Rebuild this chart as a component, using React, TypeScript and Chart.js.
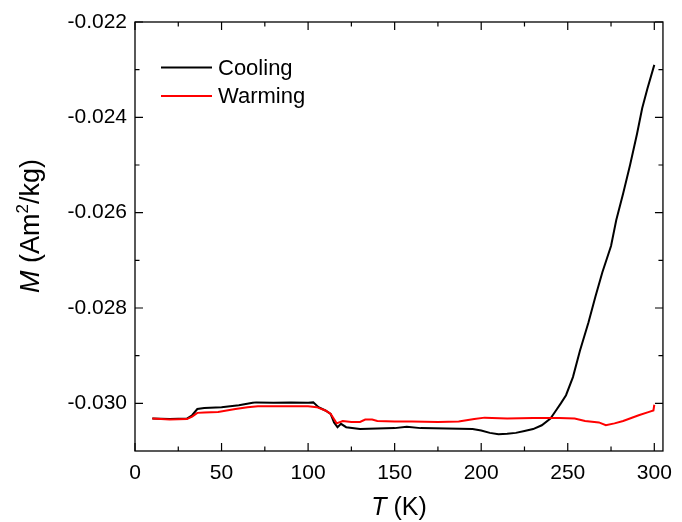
import React, { useEffect, useRef } from "react";
import { Chart, registerables } from "chart.js";

Chart.register(...registerables);

const coolingT = [10, 20, 30, 33, 36, 40, 50, 60, 68, 70, 80, 90, 100, 103, 106, 110, 113, 115, 117, 119, 122, 130, 140, 150, 157, 165, 180, 195, 200, 205, 210, 215, 220, 225, 230, 235, 240, 243, 246, 249, 253, 257, 262, 266, 270, 275, 278, 282, 286, 290, 293, 296, 300];
const coolingM = [-0.03032, -0.03033, -0.03032, -0.03025, -0.03012, -0.0301, -0.03008, -0.03004, -0.02999, -0.02998, -0.02999, -0.02998, -0.02999, -0.02998, -0.03008, -0.03015, -0.03022, -0.0304, -0.0305, -0.03043, -0.0305, -0.03054, -0.03053, -0.03052, -0.03049, -0.03052, -0.03053, -0.03054, -0.03057, -0.03062, -0.03065, -0.03064, -0.03062, -0.03058, -0.03054, -0.03046, -0.03032, -0.03016, -0.03, -0.02983, -0.02945, -0.0289, -0.0283, -0.02776, -0.02725, -0.0267, -0.02616, -0.0256, -0.025, -0.02435, -0.02381, -0.0234, -0.0229];

const warmingT = [10, 20, 30, 33, 36, 40, 48, 58, 65, 71, 85, 100, 105, 110, 113, 116.5, 120, 125, 130, 133, 137, 140, 150, 160, 175, 187, 196, 202, 215, 230, 245, 254, 260, 268, 272, 277, 282, 291, 297, 299.5, 300];
const warmingM = [-0.03032, -0.03034, -0.03033, -0.03028, -0.0302, -0.03019, -0.03018, -0.03012, -0.03008, -0.03006, -0.03006, -0.03006, -0.03008, -0.03015, -0.03022, -0.03042, -0.03037, -0.03039, -0.03039, -0.03034, -0.03034, -0.03037, -0.03038, -0.03038, -0.03039, -0.03038, -0.03033, -0.0303, -0.03032, -0.03031, -0.03031, -0.03032, -0.03037, -0.0304, -0.03046, -0.03042, -0.03037, -0.03025, -0.03018, -0.03015, -0.03003];

const xTicks = [0, 50, 100, 150, 200, 250, 300];
const xMinorTicks = [25, 75, 125, 175, 225, 275];
const yTicks = [-0.03, -0.028, -0.026, -0.024, -0.022];
const yMinorTicks = [-0.029, -0.027, -0.025, -0.023];
const seriesLabels = ["Cooling", "Warming"];
const seriesColors = ["#000000", "#ff0000"];

const FONT = "'Liberation Sans', Arial, sans-serif";

const framePlugin = {
  id: "frame",
  afterDraw(chart: any) {
    const ctx = chart.ctx;
    const { left, right, top, bottom } = chart.chartArea;
    const xs = chart.scales.x;
    const ys = chart.scales.y;
    ctx.save();
    ctx.strokeStyle = "#000";
    ctx.lineWidth = 1.3;
    ctx.strokeRect(left, top, right - left, bottom - top);
    ctx.lineWidth = 1.2;
    const major = 8;
    const minor = 4.5;
    ctx.beginPath();
    xTicks.forEach((v) => {
      const px = xs.getPixelForValue(v);
      ctx.moveTo(px, bottom);
      ctx.lineTo(px, bottom - major);
      ctx.moveTo(px, top);
      ctx.lineTo(px, top + major);
    });
    xMinorTicks.forEach((v) => {
      const px = xs.getPixelForValue(v);
      ctx.moveTo(px, bottom);
      ctx.lineTo(px, bottom - minor);
      ctx.moveTo(px, top);
      ctx.lineTo(px, top + minor);
    });
    yTicks.forEach((v) => {
      const py = ys.getPixelForValue(v);
      ctx.moveTo(left, py);
      ctx.lineTo(left + major, py);
      ctx.moveTo(right, py);
      ctx.lineTo(right - major, py);
    });
    yMinorTicks.forEach((v) => {
      const py = ys.getPixelForValue(v);
      ctx.moveTo(left, py);
      ctx.lineTo(left + minor, py);
      ctx.moveTo(right, py);
      ctx.lineTo(right - minor, py);
    });
    ctx.stroke();

    // legend
    ctx.font = `22px ${FONT}`;
    ctx.textBaseline = "middle";
    ctx.textAlign = "left";
    seriesLabels.forEach((lab, i) => {
      const y = 67.5 + i * 28.5;
      ctx.strokeStyle = seriesColors[i];
      ctx.lineWidth = 2;
      ctx.beginPath();
      ctx.moveTo(161, y);
      ctx.lineTo(212, y);
      ctx.stroke();
      ctx.fillStyle = "#000";
      ctx.fillText(lab, 218, y + 1);
    });

    // x title
    ctx.textBaseline = "alphabetic";
    const xParts: [string, string][] = [
      ["T", `italic 25px ${FONT}`],
      [" (K)", `25px ${FONT}`],
    ];
    let w = 0;
    xParts.forEach(([t, f]) => {
      ctx.font = f;
      w += ctx.measureText(t).width;
    });
    let cx = (left + right) / 2 - w / 2;
    xParts.forEach(([t, f]) => {
      ctx.font = f;
      ctx.fillText(t, cx, 515);
      cx += ctx.measureText(t).width;
    });

    // y title
    const yParts: [string, string, number][] = [
      ["M", `italic 27px ${FONT}`, 0],
      [" (Am", `27px ${FONT}`, 0],
      ["2", `17px ${FONT}`, -11],
      ["/kg)", `27px ${FONT}`, 0],
    ];
    w = 0;
    yParts.forEach(([t, f]) => {
      ctx.font = f;
      w += ctx.measureText(t).width;
    });
    ctx.translate(39, 226);
    ctx.rotate(-Math.PI / 2);
    cx = -w / 2;
    yParts.forEach(([t, f, dy]) => {
      ctx.font = f;
      ctx.fillText(t, cx, dy);
      cx += ctx.measureText(t).width;
    });
    ctx.restore();
  },
};

export default function App() {
  const ref = useRef<HTMLCanvasElement | null>(null);
  useEffect(() => {
    if (!ref.current) return;
    const chart = new Chart(ref.current, {
      type: "line",
      data: {
        datasets: [
          {
            label: seriesLabels[0],
            data: coolingT.map((t, i) => ({ x: t, y: coolingM[i] })),
            borderColor: seriesColors[0],
            borderWidth: 2,
            pointRadius: 0,
            tension: 0,
            order: 1,
          },
          {
            label: seriesLabels[1],
            data: warmingT.map((t, i) => ({ x: t, y: warmingM[i] })),
            borderColor: seriesColors[1],
            borderWidth: 2,
            pointRadius: 0,
            tension: 0,
            order: 0,
          },
        ],
      },
      options: {
        animation: false,
        responsive: false,
        devicePixelRatio: 1,
        layout: { padding: { top: 22, right: 11, left: 0, bottom: 0 } },
        plugins: { legend: { display: false }, tooltip: { enabled: false } },
        scales: {
          x: {
            type: "linear",
            min: 0,
            max: 305,
            grid: { display: false, drawTicks: false },
            border: { display: false },
            ticks: { color: "#000", font: { family: FONT, size: 21 }, padding: 10, maxRotation: 0 },
            afterBuildTicks: (s: any) => {
              s.ticks = xTicks.map((v) => ({ value: v }));
            },
            afterFit: (s: any) => {
              s.height = 71;
            },
          },
          y: {
            type: "linear",
            min: -0.031,
            max: -0.022,
            grid: { display: false, drawTicks: false },
            border: { display: false },
            ticks: {
              color: "#000",
              font: { family: FONT, size: 21 },
              padding: 8,
              callback: (v: any) => Number(v).toFixed(3),
            },
            afterBuildTicks: (s: any) => {
              s.ticks = yTicks.map((v) => ({ value: v }));
            },
            afterFit: (s: any) => {
              s.width = 135;
            },
          },
        },
      },
      plugins: [framePlugin],
    });
    return () => chart.destroy();
  }, []);
  return (
    <div style={{ position: "absolute", left: 0, top: 0, width: 682, height: 522, background: "#fff" }}>
      <canvas ref={ref} width={682} height={522} style={{ width: 682, height: 522 }} />
    </div>
  );
}
